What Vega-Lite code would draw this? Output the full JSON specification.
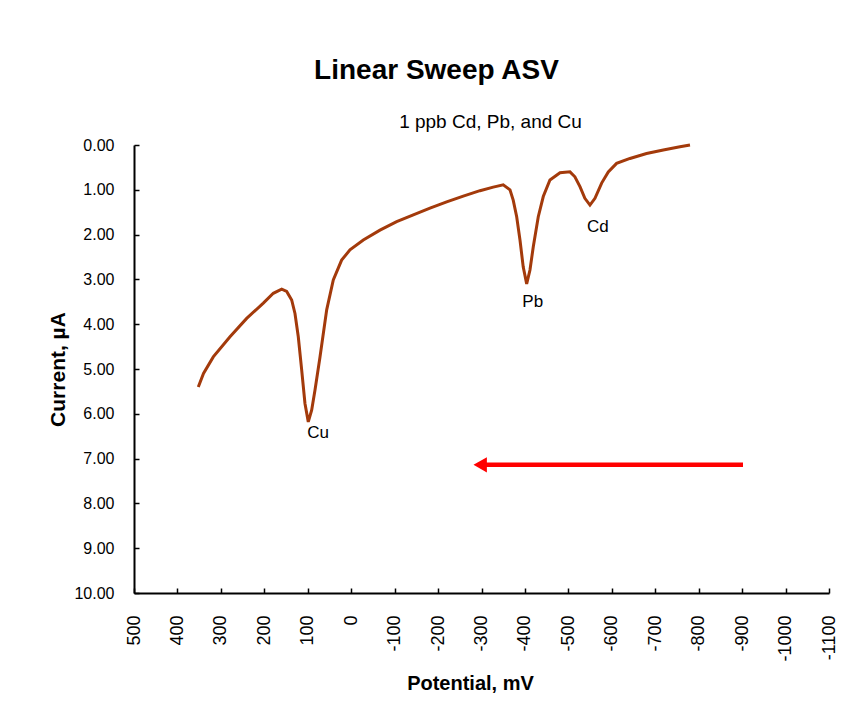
{
  "$schema": "https://vega.github.io/schema/vega-lite/v6.json",
  "width": 695,
  "height": 448,
  "autosize": {"type": "none"},
  "padding": {"left": 134, "top": 145, "right": 22, "bottom": 130},
  "background": "white",
  "title": {
    "text": "Linear Sweep ASV",
    "font": "Liberation Sans",
    "fontSize": 28,
    "fontWeight": "bold",
    "color": "#000000",
    "frame": "group",
    "anchor": "middle",
    "dx": -45,
    "offset": 27
  },
  "config": {
    "view": {"stroke": null},
    "axis": {
      "labelFont": "Liberation Sans",
      "titleFont": "Liberation Sans",
      "labelColor": "#000000",
      "titleColor": "#000000",
      "domainColor": "#000000",
      "tickColor": "#000000",
      "grid": false
    }
  },
  "datasets": {
    "curve": [
      {"potential": 352, "current": 5.40},
      {"potential": 340, "current": 5.10},
      {"potential": 317.5, "current": 4.73},
      {"potential": 279, "current": 4.28},
      {"potential": 240.6, "current": 3.87},
      {"potential": 202.3, "current": 3.53},
      {"potential": 179.3, "current": 3.31},
      {"potential": 160, "current": 3.22},
      {"potential": 148.5, "current": 3.27},
      {"potential": 137, "current": 3.46},
      {"potential": 129.4, "current": 3.76},
      {"potential": 121.8, "current": 4.28},
      {"potential": 114, "current": 5.02},
      {"potential": 106.4, "current": 5.77},
      {"potential": 98.8, "current": 6.18},
      {"potential": 91, "current": 5.92},
      {"potential": 83.3, "current": 5.47},
      {"potential": 71.8, "current": 4.73},
      {"potential": 56.4, "current": 3.68},
      {"potential": 41.2, "current": 3.01},
      {"potential": 22, "current": 2.57},
      {"potential": 2.8, "current": 2.34},
      {"potential": -27.9, "current": 2.12},
      {"potential": -66.3, "current": 1.90},
      {"potential": -104.7, "current": 1.71},
      {"potential": -143, "current": 1.56},
      {"potential": -181.4, "current": 1.41},
      {"potential": -219.8, "current": 1.27},
      {"potential": -258, "current": 1.14},
      {"potential": -296.5, "current": 1.02},
      {"potential": -327, "current": 0.94},
      {"potential": -350, "current": 0.89},
      {"potential": -365.6, "current": 1.00},
      {"potential": -373, "current": 1.23},
      {"potential": -381, "current": 1.60},
      {"potential": -388.6, "current": 2.12},
      {"potential": -396, "current": 2.72},
      {"potential": -404, "current": 3.10},
      {"potential": -411.6, "current": 2.79},
      {"potential": -419.2, "current": 2.27},
      {"potential": -430.7, "current": 1.60},
      {"potential": -442.2, "current": 1.15},
      {"potential": -457.6, "current": 0.78},
      {"potential": -480.7, "current": 0.62},
      {"potential": -503.7, "current": 0.60},
      {"potential": -515, "current": 0.71},
      {"potential": -526.7, "current": 0.93},
      {"potential": -538, "current": 1.19},
      {"potential": -549.7, "current": 1.34},
      {"potential": -561.2, "current": 1.19},
      {"potential": -576.6, "current": 0.85},
      {"potential": -591.9, "current": 0.60},
      {"potential": -611, "current": 0.41},
      {"potential": -641.8, "current": 0.30},
      {"potential": -680, "current": 0.19},
      {"potential": -718.5, "current": 0.11},
      {"potential": -756.9, "current": 0.04},
      {"potential": -780, "current": 0.00}
    ],
    "peaks": [
      {"potential": 76, "current": 6.42, "label": "Cu"},
      {"potential": -418, "current": 3.50, "label": "Pb"},
      {"potential": -568, "current": 1.83, "label": "Cd"}
    ],
    "arrow": [
      {"potential": -902, "end": -297, "current": 7.14}
    ],
    "head": [
      {"potential": -297, "current": 7.14}
    ]
  },
  "layer": [
    {
      "layer": [
        {
          "data": {"name": "curve"},
          "mark": {"type": "line", "color": "#A33A0B", "strokeWidth": 3, "interpolate": "linear"},
          "encoding": {
            "x": {
              "field": "potential",
              "type": "quantitative",
              "scale": {"domain": [500, -1100], "nice": false, "zero": false},
              "axis": {
                "values": [500, 400, 300, 200, 100, 0, -100, -200, -300, -400, -500, -600, -700, -800, -900, -1000, -1100],
                "labelExpr": "'' + datum.value",
                "labelAngle": -90,
                "labelAlign": "right",
                "labelBaseline": "middle",
                "labelFontSize": 18,
                "labelPadding": 27,
                "labelOverlap": false,
                "labelFlush": false,
                "tickSize": -5,
                "tickWidth": 1.5,
                "domainWidth": 2,
                "title": "Potential, mV",
                "titleFontSize": 20,
                "titleFontWeight": "bold",
                "titleX": 336,
                "titlePadding": 12
              }
            },
            "y": {
              "field": "current",
              "type": "quantitative",
              "scale": {"domain": [0, 10], "reverse": true, "nice": false, "zero": false},
              "axis": {
                "values": [0, 1, 2, 3, 4, 5, 6, 7, 8, 9, 10],
                "format": ".2f",
                "labelFontSize": 16,
                "labelPadding": 25,
                "labelOverlap": false,
                "labelFlush": false,
                "tickSize": -5,
                "tickWidth": 1.5,
                "domainWidth": 2,
                "title": "Current, µA",
                "titleFontSize": 21,
                "titleFontWeight": "bold",
                "titlePadding": 5
              }
            }
          }
        },
        {
          "data": {"name": "arrow"},
          "mark": {"type": "rule", "color": "#FF0000", "strokeWidth": 4.5},
          "encoding": {
            "x": {"field": "potential", "type": "quantitative"},
            "x2": {"field": "end"},
            "y": {"field": "current", "type": "quantitative"}
          }
        },
        {
          "data": {"name": "head"},
          "mark": {"type": "point", "shape": "triangle-left", "filled": true, "color": "#FF0000", "opacity": 1, "size": 240},
          "encoding": {
            "x": {"field": "potential", "type": "quantitative"},
            "y": {"field": "current", "type": "quantitative"}
          }
        }
      ]
    },
    {
      "data": {"name": "peaks"},
      "mark": {"type": "text", "font": "Liberation Sans", "fontSize": 17, "color": "#000000", "align": "center", "baseline": "middle"},
      "encoding": {
        "x": {
          "field": "potential",
          "type": "quantitative",
          "axis": {
            "orient": "top",
            "labels": false,
            "ticks": false,
            "domain": false,
            "grid": false,
            "title": "1 ppb Cd, Pb, and Cu",
            "titleFontSize": 19,
            "titleFontWeight": "normal",
            "titleX": 356,
            "titleY": -18,
            "titleBaseline": "alphabetic",
            "titleAnchor": "middle"
          }
        },
        "y": {"field": "current", "type": "quantitative"},
        "text": {"field": "label"}
      }
    }
  ],
  "resolve": {"axis": {"x": "independent"}}
}
